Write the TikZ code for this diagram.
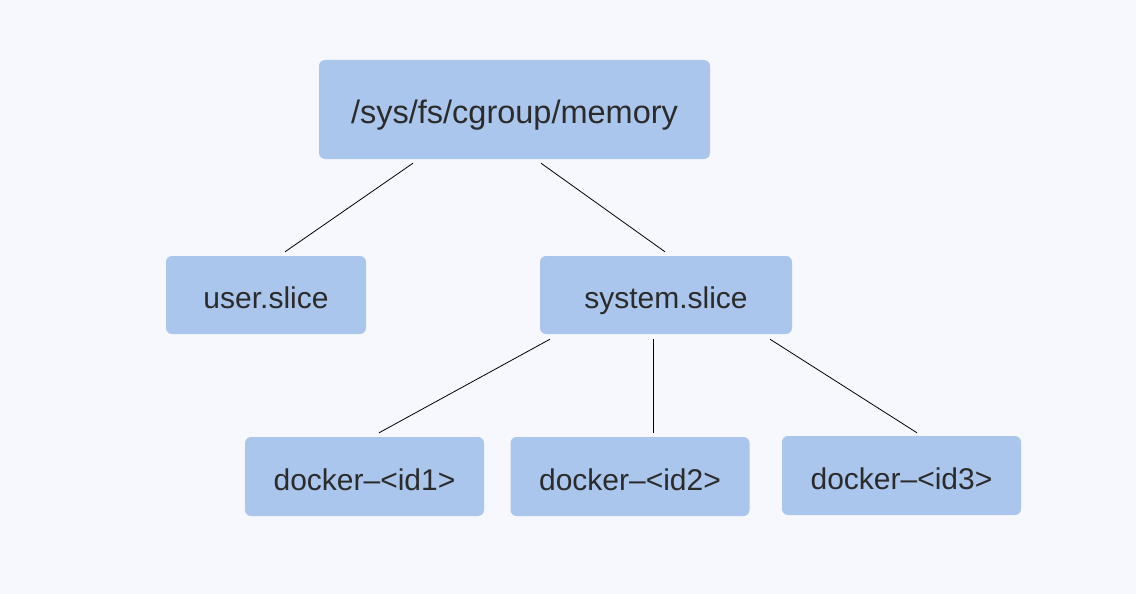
\documentclass[tikz,border=0pt]{standalone}
\usepackage{fontspec}
\setmainfont{Liberation Sans}
\definecolor{bg}{HTML}{F7F8FD}
\definecolor{boxc}{HTML}{ABC6EC}
\definecolor{txt}{HTML}{2B2B2B}
\begin{document}
\begin{tikzpicture}[x=1pt,y=-1pt,
  tbox/.style={fill=boxc,rounded corners=6pt,inner sep=0pt,text=txt,font=\fontsize{30}{36}\selectfont,text height=27pt,text depth=0pt},
  conn/.style={draw=black,line width=0.8pt}]
\fill[bg] (0,0) rectangle (1136,594);
\useasboundingbox (0,0) rectangle (1136,594);
\node[tbox,minimum width=391pt,minimum height=99pt,font=\fontsize{32.5}{38}\selectfont,text height=29pt] (root) at (514.5,109.5) {/sys/fs/cgroup/memory};
\node[tbox,minimum width=200pt,minimum height=78pt] (user) at (266,295) {user.slice};
\node[tbox,minimum width=252pt,minimum height=78pt] (sys) at (666,295) {system.slice};
\node[tbox,minimum width=239pt,minimum height=79pt] (d1) at (364.5,476.5) {docker–<id1>};
\node[tbox,minimum width=239pt,minimum height=79pt] (d2) at (630,476.5) {docker–<id2>};
\node[tbox,minimum width=239pt,minimum height=79pt] (d3) at (901.5,475.5) {docker–<id3>};
\draw[conn] ([xshift=-101.5pt,yshift=-4pt]root.south) -- ([xshift=19pt,yshift=4pt]user.north);
\draw[conn] ([xshift=26.5pt,yshift=-4pt]root.south) -- ([xshift=-1pt,yshift=4pt]sys.north);
\draw[conn] ([xshift=-116pt,yshift=-5pt]sys.south) -- ([xshift=14.5pt,yshift=4pt]d1.north);
\draw[conn] ([xshift=-13pt,yshift=-5pt]sys.south) -- ([xshift=23pt,yshift=4pt]d2.north);
\draw[conn] ([xshift=104pt,yshift=-5pt]sys.south) -- ([xshift=15.5pt,yshift=3pt]d3.north);
\end{tikzpicture}
\end{document}
